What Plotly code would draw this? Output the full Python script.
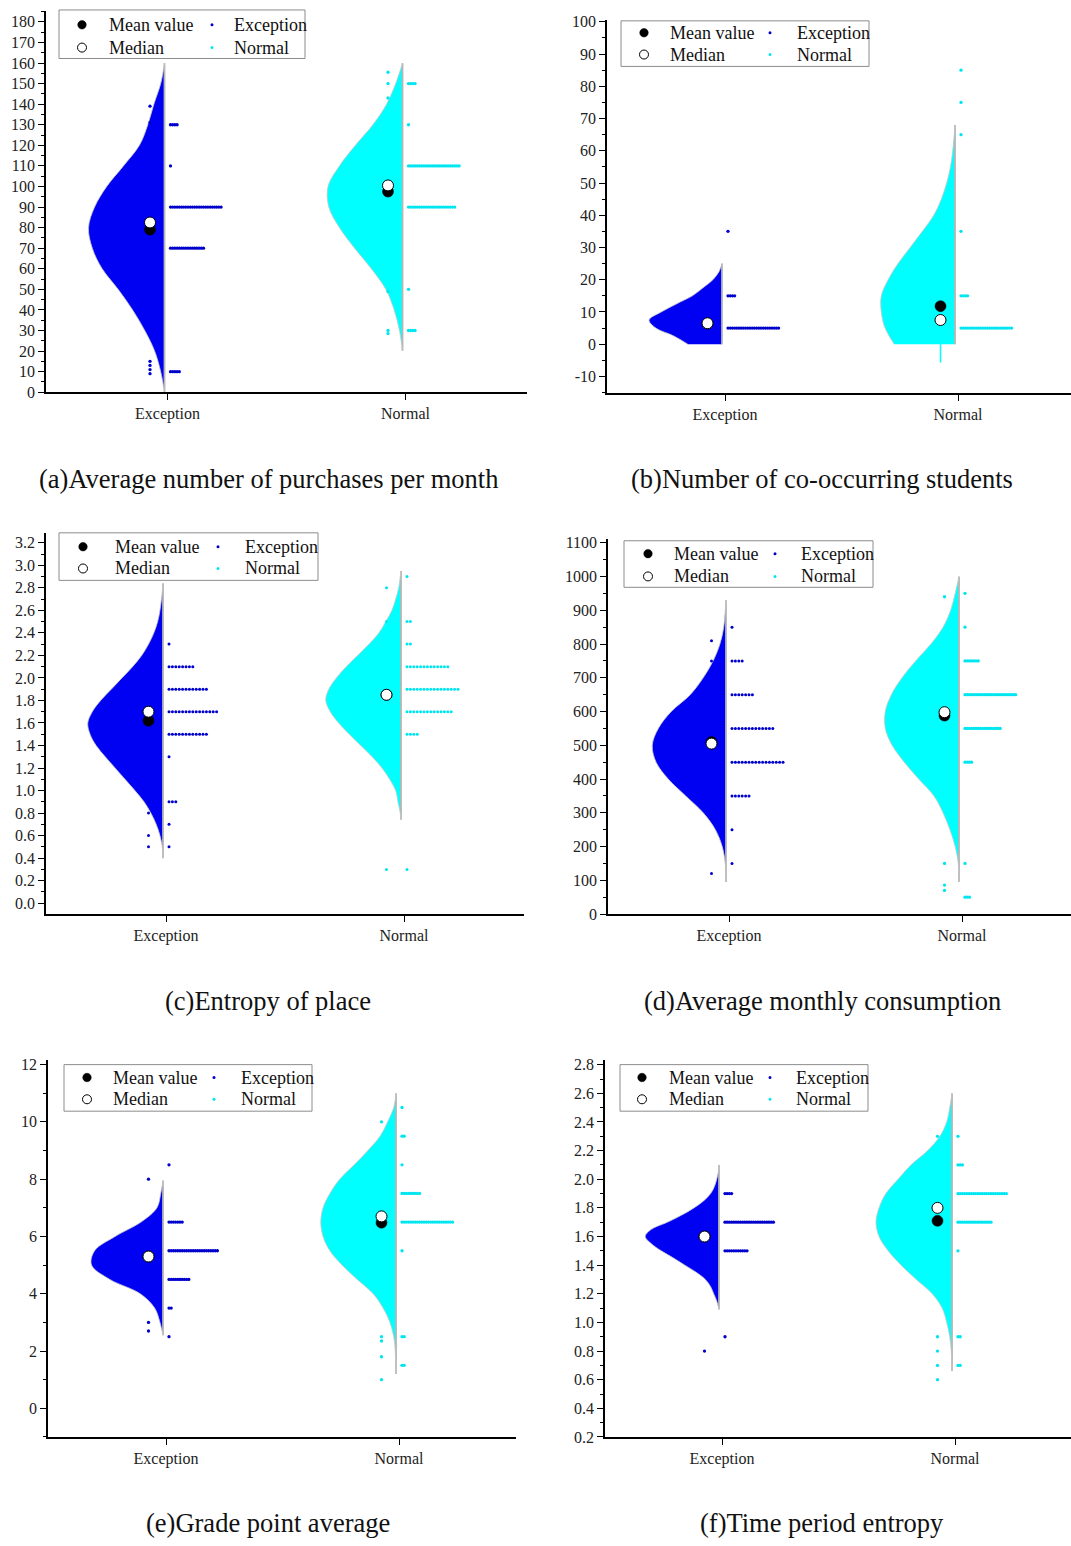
import plotly.graph_objects as go

FIG_W, FIG_H = 1071, 1546
SERIF = "Liberation Serif, Times New Roman, serif"
GROUPS = ["Exception", "Normal"]
CAPTIONS = ["(a)Average number of purchases per month", "(b)Number of co-occurring students",
            "(c)Entropy of place", "(d)Average monthly consumption",
            "(e)Grade point average", "(f)Time period entropy"]

# ---------------- (a) Average number of purchases per month ----------------
a_exc_vy = [0, 10, 20, 30, 40, 50, 60, 70, 80, 90, 100, 110, 120, 130, 140, 150, 160]
a_exc_vd = [0, .05, .13, .26, .42, .61, .82, .95, 1.0, .92, .76, .54, .33, .22, .14, .05, 0]
a_nor_vy = [20, 30, 40, 50, 60, 70, 80, 90, 100, 110, 120, 130, 140, 150, 160]
a_nor_vd = [0, .04, .11, .22, .41, .63, .83, .97, .98, .83, .62, .39, .21, .09, 0]
a_mean = [79, 97.5]
a_median = [82.5, 100.5]
a_exc_out = [139, 131, 15, 13, 11, 9]
a_nor_out = [155.5, 150, 143, 49, 30, 28.5]
a_exc_rows = [130, 110, 90, 70, 10]
a_exc_cnt = [4, 1, 24, 16, 5]
a_nor_rows = [150, 130, 110, 90, 50, 30]
a_nor_cnt = [4, 1, 24, 22, 1, 4]

# ---------------- (b) Number of co-occurring students ----------------
b_exc_vy = [0, 2.5, 5, 7.5, 10, 12.5, 15, 17.5, 20, 22.5, 25]
b_exc_vd = [.45, .63, .87, .96, .80, .60, .39, .25, .12, .04, 0]
b_nor_vy = [0, 5, 10, 15, 20, 25, 30, 35, 40, 45, 50, 55, 60, 65, 68]
b_nor_vd = [.80, .92, .97, .97, .88, .75, .59, .43, .28, .18, .11, .06, .03, .01, 0]
b_mean = [6.4, 11.8]
b_median = [6.5, 7.5]
b_exc_out = []
b_nor_out = []
b_nor_whisker = [-5.7, 0]
b_exc_rows = [35, 15, 5]
b_exc_cnt = [1, 4, 24]
b_nor_rows = [85, 75, 65, 35, 15, 5]
b_nor_cnt = [1, 1, 1, 1, 4, 24]
b_ticks = [-10, 0, 10, 20, 30, 40, 50, 60, 70, 80, 90, 100]

# ---------------- (c) Entropy of place ----------------
c_exc_vy = [0.4, 0.5, 0.6, 0.7, 0.8, 0.9, 1.0, 1.1, 1.2, 1.3, 1.4, 1.5, 1.6, 1.7, 1.8, 1.9,
            2.0, 2.1, 2.2, 2.3, 2.4, 2.5, 2.6, 2.7, 2.84]
c_exc_vd = [0, .01, .04, .09, .16, .25, .37, .50, .63, .76, .88, .96, .99, .93, .82, .68,
            .54, .40, .28, .19, .12, .07, .04, .02, 0]
c_nor_vy = [0.74, 0.8, 0.9, 1.0, 1.1, 1.2, 1.3, 1.4, 1.5, 1.6, 1.7, 1.8, 1.9, 2.0, 2.1, 2.2,
            2.3, 2.4, 2.5, 2.6, 2.7, 2.8, 2.9, 2.95]
c_nor_vd = [0, .01, .04, .07, .15, .25, .38, .53, .68, .82, .93, .99, .95, .85, .72, .57,
            .42, .29, .20, .12, .07, .03, .01, 0]
c_mean = [1.62, 1.85]
c_median = [1.70, 1.85]
c_exc_out = [0.9, 0.8, 0.6, 0.5]
c_nor_out = [2.8, 2.5, 0.3]
c_exc_rows = [2.3, 2.1, 1.9, 1.7, 1.5, 1.3, 0.9, 0.7, 0.5]
c_exc_cnt = [1, 8, 12, 15, 12, 1, 3, 1, 1]
c_nor_rows = [2.9, 2.5, 2.3, 2.1, 1.9, 1.7, 1.5, 0.3]
c_nor_cnt = [1, 2, 2, 13, 16, 14, 4, 1]

# ---------------- (d) Average monthly consumption ----------------
d_exc_vy = [95, 150, 200, 250, 300, 350, 400, 450, 500, 550, 600, 650, 700, 750, 800, 850, 900, 930]
d_exc_vd = [0, .01, .05, .14, .30, .53, .76, .92, .97, .89, .72, .47, .30, .17, .08, .03, .01, 0]
d_nor_vy = [95, 150, 200, 250, 300, 350, 400, 450, 500, 550, 600, 650, 700, 750, 800, 850, 900, 950, 1000]
d_nor_vd = [0, .01, .05, .12, .21, .33, .53, .72, .88, .97, .97, .89, .75, .57, .37, .21, .11, .05, 0]
d_mean = [510, 588]
d_median = [505, 598]
d_exc_out = [810, 750, 280, 120]
d_nor_out = [940, 150, 86, 70]
d_exc_rows = [850, 750, 650, 550, 450, 350, 250, 150]
d_exc_cnt = [1, 4, 7, 13, 16, 6, 1, 1]
d_nor_rows = [950, 850, 750, 650, 550, 450, 150, 50]
d_nor_cnt = [1, 1, 7, 24, 17, 4, 1, 3]

# ---------------- (e) Grade point average ----------------
e_exc_vy = [2.55, 3.0, 3.5, 4.0, 4.5, 5.0, 5.5, 6.0, 6.5, 7.0, 7.5, 7.95]
e_exc_vd = [0, .04, .11, .30, .70, .94, .90, .63, .29, .08, .03, 0]
e_nor_vy = [1.2, 2.0, 2.5, 3.0, 3.5, 4.0, 4.5, 5.0, 5.5, 6.0, 6.5, 7.0, 7.5, 8.0, 8.5, 9.0,
            9.5, 10.0, 10.5, 11.0]
e_nor_vd = [0, .01, .03, .08, .17, .30, .51, .71, .87, .96, .99, .96, .87, .74, .55, .37,
            .21, .11, .03, 0]
e_mean = [5.3, 6.48]
e_median = [5.3, 6.7]
e_exc_out = [8.0, 3.0, 2.7]
e_nor_out = [10.0, 2.5, 2.35, 1.8, 1.0]
e_exc_rows = [8.5, 6.5, 5.5, 4.5, 3.5, 2.5]
e_exc_cnt = [1, 7, 23, 10, 2, 1]
e_nor_rows = [10.5, 9.5, 8.5, 7.5, 6.5, 5.5, 2.5, 1.5]
e_nor_cnt = [1, 2, 1, 9, 24, 1, 2, 2]

# ---------------- (f) Time period entropy ----------------
f_exc_vy = [1.09, 1.15, 1.2, 1.25, 1.3, 1.35, 1.4, 1.45, 1.5, 1.55, 1.6, 1.65, 1.7, 1.75,
            1.8, 1.85, 1.9, 1.95, 2.0, 2.05, 2.1]
f_exc_vd = [0, .03, .07, .11, .18, .30, .45, .60, .76, .89, .97, .89, .68, .49,
            .33, .20, .11, .06, .03, .01, 0]
f_nor_vy = [0.66, 0.8, 0.9, 1.0, 1.1, 1.2, 1.3, 1.4, 1.5, 1.6, 1.7, 1.8, 1.9, 2.0, 2.1, 2.2,
            2.3, 2.4, 2.5, 2.6]
f_nor_vd = [0, .01, .03, .07, .13, .26, .47, .67, .84, .96, 1.0, .96, .87, .71, .54, .32,
            .16, .07, .03, 0]
f_mean = [1.6, 1.71]
f_median = [1.6, 1.80]
f_exc_out = [0.8]
f_nor_out = [2.3, 0.9, 0.8, 0.7, 0.6]
f_exc_rows = [1.9, 1.7, 1.5, 0.9]
f_exc_cnt = [4, 23, 11, 1]
f_nor_rows = [2.3, 2.1, 1.9, 1.7, 1.5, 0.9, 0.7]
f_nor_cnt = [1, 3, 23, 16, 1, 2, 2]

# ---------------- styles / layout (pixels) ----------------
FILL = ["#0000f2", "#00ffff"]
DOT = ["#0000cc", "#00e6f0"]
EDGE_GRAY = "#b5b5b5"
VIOLIN_W = 76      # px at relative density 1
EDGE_OFF = -3      # px, flat edge of half violin relative to category
MEAN_OFF = -17.5   # px, column of mean / median / outliers
ROW_OFF = 3        # px, first dot of dot rows

panels = [
    dict(vy=(a_exc_vy, a_nor_vy), vd=(a_exc_vd, a_nor_vd), mean=a_mean, median=a_median,
         out=(a_exc_out, a_nor_out), rows=(a_exc_rows, a_nor_rows), cnt=(a_exc_cnt, a_nor_cnt),
         whisk=(None, None), ticks=None,
         box=(46, 527, 5, 390), cats=(167.5, 405.5), yr=(0, 185.3), dtick=10, minor=5, fmt="d",
         solid=(True, True), leg=(59, 305, 4, 53, 82, 107, 212, 232, 19, 42), cap=(268, 478)),
    dict(vy=(b_exc_vy, b_nor_vy), vd=(b_exc_vd, b_nor_vd), mean=b_mean, median=b_median,
         out=(b_exc_out, b_nor_out), rows=(b_exc_rows, b_nor_rows), cnt=(b_exc_cnt, b_nor_cnt),
         whisk=(None, b_nor_whisker), ticks=b_ticks,
         box=(607, 1071, 14, 391), cats=(725, 958), yr=(-15.2, 100.6), dtick=10, minor=5, fmt="d",
         solid=(True, True), leg=(621, 869, 15, 61, 644, 668, 770, 795, 27, 49), cap=(822, 478)),
    dict(vy=(c_exc_vy, c_nor_vy), vd=(c_exc_vd, c_nor_vd), mean=c_mean, median=c_median,
         out=(c_exc_out, c_nor_out), rows=(c_exc_rows, c_nor_rows), cnt=(c_exc_cnt, c_nor_cnt),
         whisk=(None, None), ticks=None,
         box=(46, 524, 532, 917), cats=(166, 404), yr=(-0.097, 3.288), dtick=0.2, minor=0.1, fmt=".1f",
         solid=(False, False), leg=(59, 318, 532, 580, 83, 113, 218, 243, 546, 568), cap=(268, 1005)),
    dict(vy=(d_exc_vy, d_nor_vy), vd=(d_exc_vd, d_nor_vd), mean=d_mean, median=d_median,
         out=(d_exc_out, d_nor_out), rows=(d_exc_rows, d_nor_rows), cnt=(d_exc_cnt, d_nor_cnt),
         whisk=(None, None), ticks=None,
         box=(608, 1071, 538, 917), cats=(729, 962), yr=(0, 1111.7), dtick=100, minor=50, fmt="d",
         solid=(False, True), leg=(624, 873, 540, 587, 648, 672, 775, 799, 553, 576), cap=(822, 1005)),
    dict(vy=(e_exc_vy, e_nor_vy), vd=(e_exc_vd, e_nor_vd), mean=e_mean, median=e_median,
         out=(e_exc_out, e_nor_out), rows=(e_exc_rows, e_nor_rows), cnt=(e_exc_cnt, e_nor_cnt),
         whisk=(None, None), ticks=None,
         box=(48, 516, 1064, 1445), cats=(166, 399), yr=(-1.0, 12.17), dtick=2, minor=1, fmt="d",
         solid=(True, True), leg=(64, 312, 1069, 1116, 87, 111, 214, 239, 1082, 1104), cap=(268, 1532)),
    dict(vy=(f_exc_vy, f_nor_vy), vd=(f_exc_vd, f_nor_vd), mean=f_mean, median=f_median,
         out=(f_exc_out, f_nor_out), rows=(f_exc_rows, f_nor_rows), cnt=(f_exc_cnt, f_nor_cnt),
         whisk=(None, None), ticks=None,
         box=(605, 1071, 1064, 1445), cats=(722, 955), yr=(0.2, 2.835), dtick=0.2, minor=0.1, fmt=".1f",
         solid=(True, True), leg=(620, 868, 1069, 1116, 642, 667, 770, 794, 1082, 1104), cap=(822, 1532)),
]

fig = go.Figure()
shapes, annotations = [], []


def px2paper(px, py):
    return px / FIG_W, 1 - py / FIG_H


def circle(px, py, d, fill, line_color, line_w):
    ax, ay = px2paper(px, py)
    return dict(type="circle", xref="paper", yref="paper", xsizemode="pixel", ysizemode="pixel",
                xanchor=ax, yanchor=ay, x0=-d / 2, x1=d / 2, y0=-d / 2, y1=d / 2,
                fillcolor=fill, line=dict(color=line_color, width=line_w), layer="above")


for i, p in enumerate(panels):
    n = "" if i == 0 else str(i + 1)
    xa, ya = "x" + n, "y" + n
    x0, x1, ytop, ybot = p["box"]
    c1, c2 = p["cats"]
    upp = 1.0 / (c2 - c1)  # data units per pixel in x
    xr = (1 - (c1 - x0) * upp, 2 + (x1 - c2) * upp)

    for g in range(2):
        cx = g + 1
        edge = cx + EDGE_OFF * upp
        vy, vd = p["vy"][g], p["vd"][g]
        # flat edge of half violin
        fig.add_trace(go.Scatter(x=[edge] * len(vy), y=vy, mode="lines", xaxis=xa, yaxis=ya,
                                 line=dict(color=EDGE_GRAY, width=1.8), hoverinfo="skip",
                                 showlegend=False))
        # density curve (left half)
        fig.add_trace(go.Scatter(x=[edge - d * VIOLIN_W * upp for d in vd], y=vy, mode="lines",
                                 xaxis=xa, yaxis=ya, fill="tonextx", fillcolor=FILL[g],
                                 line=dict(color="#c8c8c8", width=0.8, shape="spline", smoothing=1.0),
                                 name=GROUPS[g], showlegend=False, hoverinfo="skip"))
        mx = cx + MEAN_OFF * upp
        if p["whisk"][g] is not None:
            fig.add_trace(go.Scatter(x=[mx, mx], y=p["whisk"][g], mode="lines", xaxis=xa, yaxis=ya,
                                     line=dict(color=FILL[g], width=1.5), showlegend=False,
                                     hoverinfo="skip"))
        # dot rows + outliers
        solid = p["solid"][g]
        sp = 2.2 if solid else 3.4
        sz = 3.3 if solid else 3.0
        xs, ys = [], []
        for lvl, k in zip(p["rows"][g], p["cnt"][g]):
            for j in range(k):
                xs.append(cx + (ROW_OFF + j * sp) * upp)
                ys.append(lvl)
        for v in p["out"][g]:
            xs.append(mx)
            ys.append(v)
        fig.add_trace(go.Scatter(x=xs, y=ys, mode="markers", xaxis=xa, yaxis=ya, name=GROUPS[g],
                                 marker=dict(color=DOT[g], size=sz, line=dict(width=0)),
                                 showlegend=False))
    # mean and median
    mxs = [g + 1 + MEAN_OFF * upp for g in range(2)]
    fig.add_trace(go.Scatter(x=mxs, y=p["mean"], mode="markers", xaxis=xa, yaxis=ya,
                             name="Mean value", marker=dict(color="black", size=11,
                                                            line=dict(color="black", width=0.5)),
                             showlegend=False))
    fig.add_trace(go.Scatter(x=mxs, y=p["median"], mode="markers", xaxis=xa, yaxis=ya,
                             name="Median", marker=dict(color="white", size=11,
                                                        line=dict(color="black", width=1)),
                             showlegend=False))

    ycfg = dict(domain=[1 - ybot / FIG_H, 1 - ytop / FIG_H], range=list(p["yr"]),
                anchor=xa, dtick=p["dtick"], tick0=0, tickformat=p["fmt"],
                ticks="outside", ticklen=6, tickwidth=1.2, tickcolor="black",
                showline=True, linecolor="black", linewidth=1.5, showgrid=False,
                zeroline=False, fixedrange=True,
                minor=dict(dtick=p["minor"], tick0=0, ticks="outside", ticklen=3,
                           tickwidth=1, tickcolor="black", showgrid=False),
                tickfont=dict(family=SERIF, size=16, color="#222"))
    if p["ticks"] is not None:
        ycfg.update(tickmode="array", tickvals=p["ticks"], ticktext=[str(t) for t in p["ticks"]])
    fig.update_layout(**{
        ("xaxis" + n): dict(domain=[x0 / FIG_W, x1 / FIG_W], range=list(xr), anchor=ya,
                             tickvals=[1, 2], ticktext=GROUPS, ticks="outside", ticklen=6,
                             tickwidth=1.2, tickcolor="black", showline=True, linecolor="black",
                             linewidth=1.5, showgrid=False, zeroline=False, fixedrange=True,
                             tickfont=dict(family=SERIF, size=16, color="#222")),
        ("yaxis" + n): ycfg,
    })

    # hand-built legend box
    lx0, lx1, ly0, ly1, s1, t1, s2, t2, r1, r2 = p["leg"]
    bx0, by0 = px2paper(lx0, ly0)
    bx1, by1 = px2paper(lx1, ly1)
    shapes.append(dict(type="rect", xref="paper", yref="paper", x0=bx0, x1=bx1, y0=by1, y1=by0,
                       line=dict(color="#8c8c8c", width=1), fillcolor="rgba(0,0,0,0)",
                       layer="above"))
    shapes.append(circle(s1, r1, 8.5, "black", "black", 0.5))
    shapes.append(circle(s1, r2, 9, "white", "black", 1))
    shapes.append(circle(s2, r1, 3, DOT[0], DOT[0], 0))
    shapes.append(circle(s2, r2, 3, DOT[1], DOT[1], 0))
    for txt, tx, ty in [("Mean value", t1, r1), ("Median", t1, r2),
                        ("Exception", t2, r1), ("Normal", t2, r2)]:
        ax_, ay_ = px2paper(tx, ty)
        annotations.append(dict(text=txt, x=ax_, y=ay_, xref="paper", yref="paper",
                                xanchor="left", yanchor="middle", showarrow=False,
                                font=dict(family=SERIF, size=18, color="#111")))
    cx_, cy_ = px2paper(*p["cap"])
    annotations.append(dict(text=CAPTIONS[i], x=cx_, y=cy_, xref="paper", yref="paper",
                            xanchor="center", yanchor="middle", showarrow=False,
                            font=dict(family=SERIF, size=26.5, color="#111")))

fig.update_layout(width=FIG_W, height=FIG_H, margin=dict(l=0, r=0, t=0, b=0),
                  paper_bgcolor="white", plot_bgcolor="white", showlegend=False,
                  shapes=shapes, annotations=annotations)

fig.write_html("out.html")
